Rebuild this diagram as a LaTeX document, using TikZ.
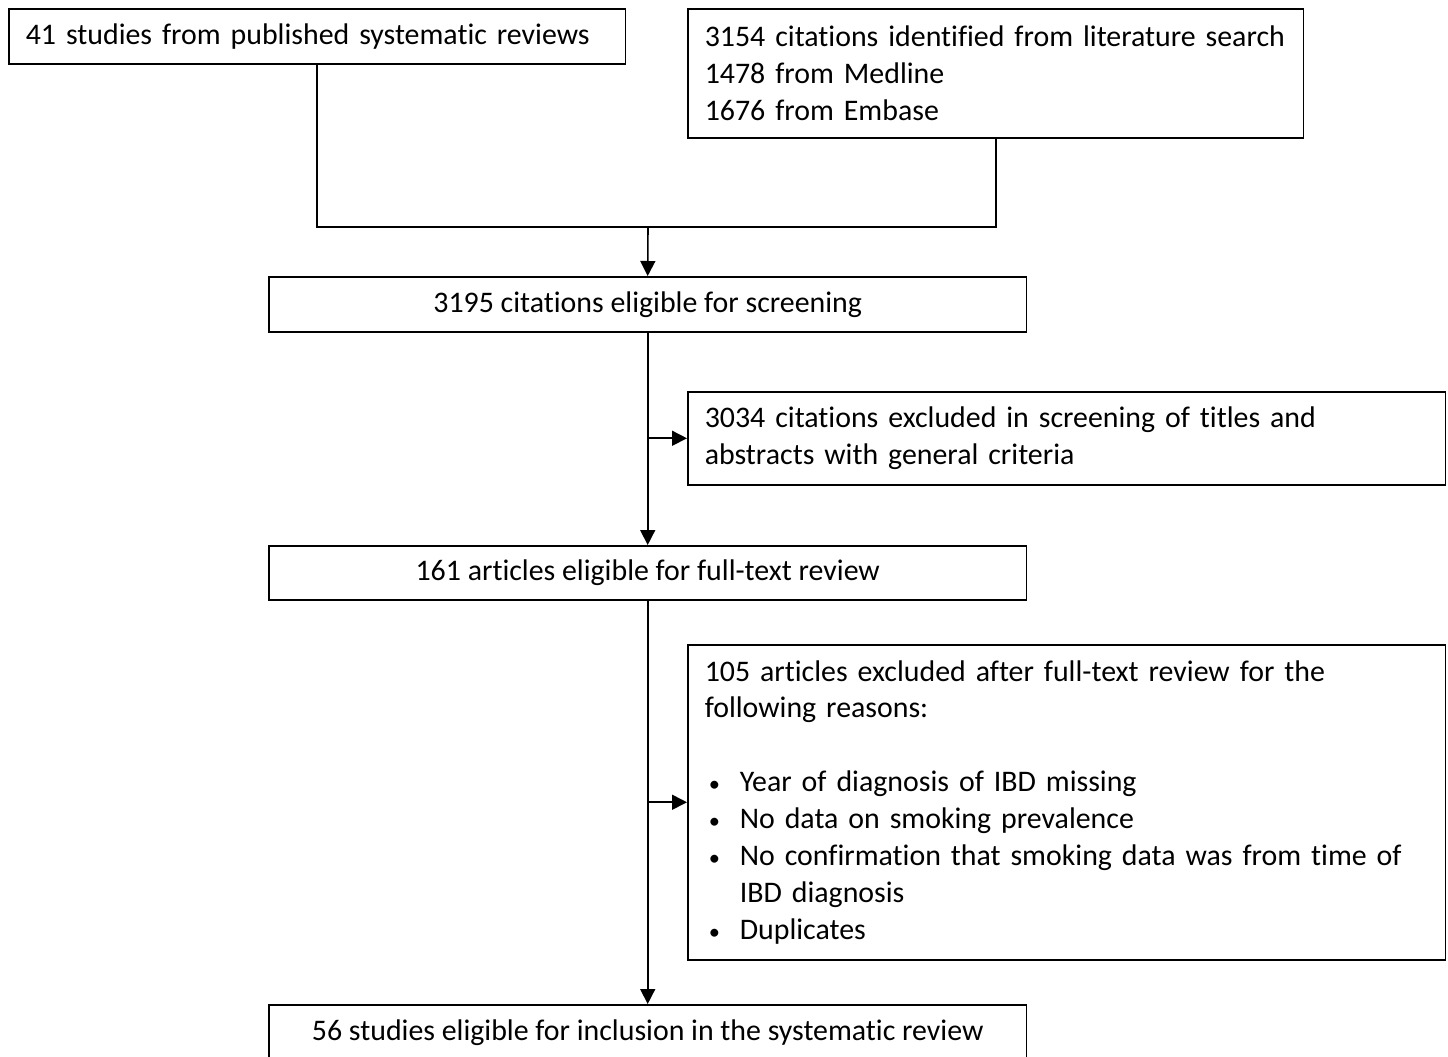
\documentclass[tikz,border=0pt]{standalone}
\usepackage{fontspec}
\setmainfont{Carlito}[Ligatures=NoCommon, RawFeature={-liga;-calt;-dlig;-clig}]
\usepackage{tikz}
\usetikzlibrary{positioning,calc,arrows.meta}

\newcommand{\blt}{\makebox[0.7cm][l]{\hspace{0.08cm}\scalebox{0.75}{\textbullet}}}

\tikzset{
    box/.style={draw, line width=0.9pt, inner xsep=0.34cm, inner ysep=0pt, anchor=north west,
        font=\fontsize{17}{21}\selectfont},
    leftbox/.style={box, align=left},
    midbox/.style={box, align=center},
    arr/.style={-{Triangle[length=0.3cm,width=0.3cm]}, line width=0.9pt},
    link/.style={line width=0.9pt}
}

\begin{document}
\begin{tikzpicture}[x=0.02cm,y=-0.02cm]
    \useasboundingbox (0,0) rectangle (1448,1057);
    \clip (0,0) rectangle (1448,1057);

    % sources
    \node[leftbox, minimum width=12.34cm, minimum height=1.10cm, text width=11.66cm] (pubRev) at (8,8)
        {41 studies from published systematic reviews};
    \node[leftbox, minimum width=12.32cm, minimum height=2.58cm, text width=11.64cm] (litSearch) at (687,8)
        {3154 citations identified from literature search\\1478 from Medline\\1676 from Embase};

    % screening
    \node[midbox, minimum width=15.16cm, minimum height=1.10cm] (screen) at (268,276)
        {3195 citations eligible for screening};
    \node[leftbox, minimum width=15.16cm, minimum height=1.86cm, text width=14.48cm] (exclA) at (687,391)
        {3034 citations excluded in screening of titles and\\abstracts with general criteria};

    % full text
    \node[midbox, minimum width=15.16cm, minimum height=1.08cm] (fullText) at (268,545)
        {161 articles eligible for full-text review};
    \node[leftbox, minimum width=15.16cm, minimum height=6.30cm, text width=14.48cm] (exclB) at (687,644)
        {105 articles excluded after full-text review for the\\following reasons:\\[0.74cm]
        \blt Year of diagnosis of IBD missing\\
        \blt No data on smoking prevalence\\
        \blt No confirmation that smoking data was from time of\\
        \hspace*{0.7cm}IBD diagnosis\\
        \blt Duplicates};

    % included
    \node[midbox, minimum width=15.16cm, minimum height=1.10cm] (incl) at (268,1004)
        {56 studies eligible for inclusion in the systematic review};

    % connectors
    \coordinate (jn) at (648,227);
    \draw[link] (pubRev.south) |- (jn) -| (litSearch.south);
    \draw[arr] (jn) -- (screen.north);
    \draw[arr] (screen.south) -- (fullText.north);
    \draw[arr] (screen.south |- exclA.west) -- (exclA.west);
    \draw[arr] (fullText.south) -- (incl.north);
    \draw[arr] (fullText.south |- exclB.west) -- (exclB.west);
\end{tikzpicture}
\end{document}
